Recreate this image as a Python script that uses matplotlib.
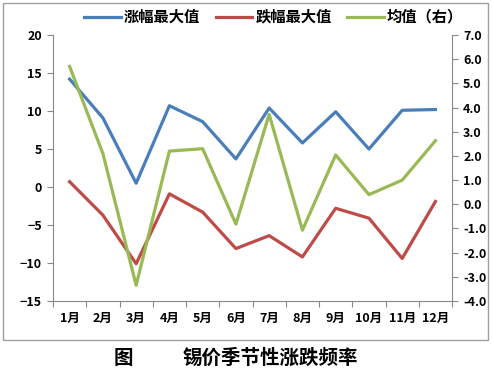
# 锡价季节性涨跌频率
import matplotlib.pyplot as plt
from matplotlib.patches import Rectangle

plt.rcParams['font.family'] = ['Noto Sans CJK SC', 'DejaVu Sans']

months = ["1月", "2月", "3月", "4月", "5月", "6月", "7月", "8月", "9月", "10月", "11月", "12月"]
max_rise = [14.2, 9.1, 0.5, 10.7, 8.6, 3.7, 10.4, 5.8, 9.9, 5.0, 10.1, 10.2]
max_fall = [0.7, -3.7, -10.1, -0.9, -3.3, -8.1, -6.4, -9.2, -2.8, -4.1, -9.4, -1.9]
mean_val = [5.7, 2.1, -3.35, 2.2, 2.3, -0.82, 3.72, -1.07, 2.04, 0.4, 1.0, 2.63]

blue = "#4A7EBB"
red = "#BE4B48"
green = "#98B954"

fig = plt.figure(figsize=(4.93, 3.77), dpi=100)
fig.patches.append(Rectangle((0.006, 0.098), 0.984, 0.894, transform=fig.transFigure,
                             fill=False, edgecolor="#a0a0a0", linewidth=1))

ax = fig.add_axes([0.1075, 0.2016, 0.8095, 0.7054])
ax2 = ax.twinx()

x = list(range(len(months)))
l1, = ax.plot(x, max_rise, color=blue, lw=2.3, label="涨幅最大值")
l2, = ax.plot(x, max_fall, color=red, lw=2.3, label="跌幅最大值")
l3, = ax2.plot(x, mean_val, color=green, lw=2.3, label="均值（右）")

ax.set_xlim(-0.5, 11.5)
ax.set_ylim(-15, 20)
ax.set_yticks(range(-15, 21, 5))
ax2.set_ylim(-4, 7)
ax2.set_yticks(range(-4, 8))
ax2.set_yticklabels([f"{v:.1f}" for v in range(-4, 8)])

ax.set_xticks([i - 0.5 for i in range(13)])
ax.set_xticklabels([])
ax.set_xticks(x, minor=True)
ax.set_xticklabels(months, minor=True)
ax.tick_params(axis="x", which="minor", length=0, pad=8)
ax.tick_params(axis="x", which="major", length=4, color="#888888")

for a in (ax, ax2):
    for s in a.spines.values():
        s.set_visible(False)
ax.spines["left"].set_visible(True)
ax.spines["left"].set_color("#888888")
ax.spines["bottom"].set_visible(True)
ax.spines["bottom"].set_color("#888888")
ax2.spines["right"].set_visible(True)
ax2.spines["right"].set_color("#888888")

ax.tick_params(axis="y", length=4, color="#888888", pad=4)
ax2.tick_params(axis="y", length=4, color="#888888", pad=4)
for lab in ax.get_yticklabels() + ax2.get_yticklabels() + ax.get_xticklabels(minor=True):
    lab.set_fontweight("bold")
    lab.set_fontsize(9)

leg = fig.legend(handles=[l1, l2, l3], loc="center", bbox_to_anchor=(0.555, 0.955), ncol=3,
                 frameon=False, handlelength=2.4, handletextpad=0.2, columnspacing=1.0,
                 prop={"weight": "bold", "size": 11})

fig.text(0.25, 0.05, "图", fontsize=14, fontweight="bold", ha="center", va="center")
fig.text(0.548, 0.05, "锡价季节性涨跌频率", fontsize=14, fontweight="bold", ha="center", va="center")

fig.savefig("out.png", dpi=100)
